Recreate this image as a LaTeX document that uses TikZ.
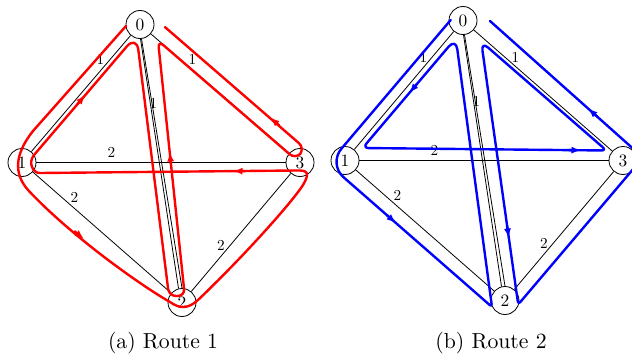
\documentclass[tikz,border=0pt]{standalone}
\usepackage{fontspec}
\setmainfont{lmroman10-regular.otf}
\usetikzlibrary{arrows.meta}
\tikzset{
  vtx/.style={circle, draw, line width=0.8pt, minimum size=28pt, inner sep=0pt, font=\fontsize{17.4}{17.4}\selectfont},
  elab/.style={inner sep=0pt, font=\fontsize{15.2}{15.2}\selectfont},
  captext/.style={inner sep=0pt, font=\fontsize{21.7}{21.7}\selectfont},
  gedge/.style={line width=0.8pt},
  rroute/.style={red, line width=2.4pt, line cap=round, line join=round},
  broute/.style={blue, line width=2.4pt, line cap=round, line join=round},
  arrowhd/.style={-{Latex[length=9.5pt,width=7pt]}},
}
% #1 = name prefix, #2 = y of vertex 0
\newcommand{\kfour}[2]{%
  \node[vtx] (#1n0) at (140,#2) {0};
  \node[vtx] (#1n1) at (22,162.5) {1};
  \node[vtx] (#1n2) at (182,302.5) {2};
  \node[vtx] (#1n3) at (300,162.5) {3};
  \draw[gedge] (#1n0) -- (#1n1);
  \draw[gedge] (#1n0) -- (#1n3);
  \draw[gedge] (#1n1) -- (#1n3);
  \draw[gedge] (#1n1) -- (#1n2);
  \draw[gedge] (#1n3) -- (#1n2);
  \draw[gedge] (#1n0.-88) -- (#1n2.104);
  \draw[gedge] (#1n0.-84) -- (#1n2.90);
  \node[elab] (#1l01) at (100.5,59.5) {1};
  \node[elab] (#1l03) at (192.5,59.5) {1};
  \node[elab] (#1l02) at (153.5,103.5) {1};
  \node[elab] (#1l13) at (111.5,152.5) {2};
  \node[elab] (#1l12) at (74.5,197.5) {2};
  \node[elab] (#1l32) at (221,245.5) {2};
}
\begin{document}
\begin{tikzpicture}[x=1pt,y=-1pt]
\useasboundingbox (0,0) rectangle (632,356);
\clip (0,0) rectangle (632,356);
% ---------- left graph: Route 1 ----------
\kfour{a}{24.5}
\draw[rroute] (126,26) -- (33,131)
  .. controls (14,155) and (14,174) .. (28,190)
  .. controls (70,235) and (140,285) .. (170,302)
  .. controls (180,309) and (188,309) .. (198,300)
  .. controls (240,260) and (290,205) .. (303,185)
  .. controls (310,173) and (308,170) .. (296,170.5)
  -- (40,173)
  .. controls (33,173.3) and (28,163) .. (33.6,155.5)
  -- (78.5,103);
\draw[rroute] (78.5,103)
  [rounded corners=15pt] -- (136.5,35.1)
  [rounded corners=7pt] -- (169,296)
  [rounded corners=7pt] -- (184.8,296)
  [rounded corners=7pt] -- (158,40.5)
  [rounded corners=8pt] -- (295.6,159.4)
  [rounded corners=8pt] -- (305,148.4)
  -- (165,27.1);
\draw[rroute,arrowhd] (74.7,231.4) -- (84,239);
\draw[rroute,arrowhd] (77.5,104.1) -- (85.3,95);
\draw[rroute,arrowhd] (170.9,164) -- (169.7,152);
\draw[rroute,arrowhd] (245,171.2) -- (233,171.1);
\draw[rroute,arrowhd] (279,125.2) -- (270,117.4);
% ---------- right graph: Route 2 ----------
\begin{scope}[shift={(323,-2)}]
\kfour{b}{22.5}
\draw[broute] (127.7,22)
  [rounded corners=20pt] -- (5.4,166)
  [rounded corners=3pt] -- (169,309)
  [rounded corners=11pt] -- (132.8,40.2)
  [rounded corners=6pt] -- (39.6,150)
  [rounded corners=5pt] -- (283.5,152.5)
  [rounded corners=9pt] -- (158.2,43.6)
  [rounded corners=3pt] -- (195.2,306.5)
  [rounded corners=15pt] -- (320,159.5)
  -- (167,23);
\draw[broute,arrowhd] (64,217.2) -- (73,225.1);
\draw[broute,arrowhd] (93.9,86) -- (86.3,95);
\draw[broute,arrowhd] (246,152.1) -- (258,152.2);
\draw[broute,arrowhd] (184.1,228) -- (185.8,240);
\draw[broute,arrowhd] (274,118.4) -- (265,110.4);
\end{scope}
\node[captext] (capa) at (163,343.5) {(a) Route 1};
\node[captext] (capb) at (491,343.5) {(b) Route 2};
\end{tikzpicture}
\end{document}
